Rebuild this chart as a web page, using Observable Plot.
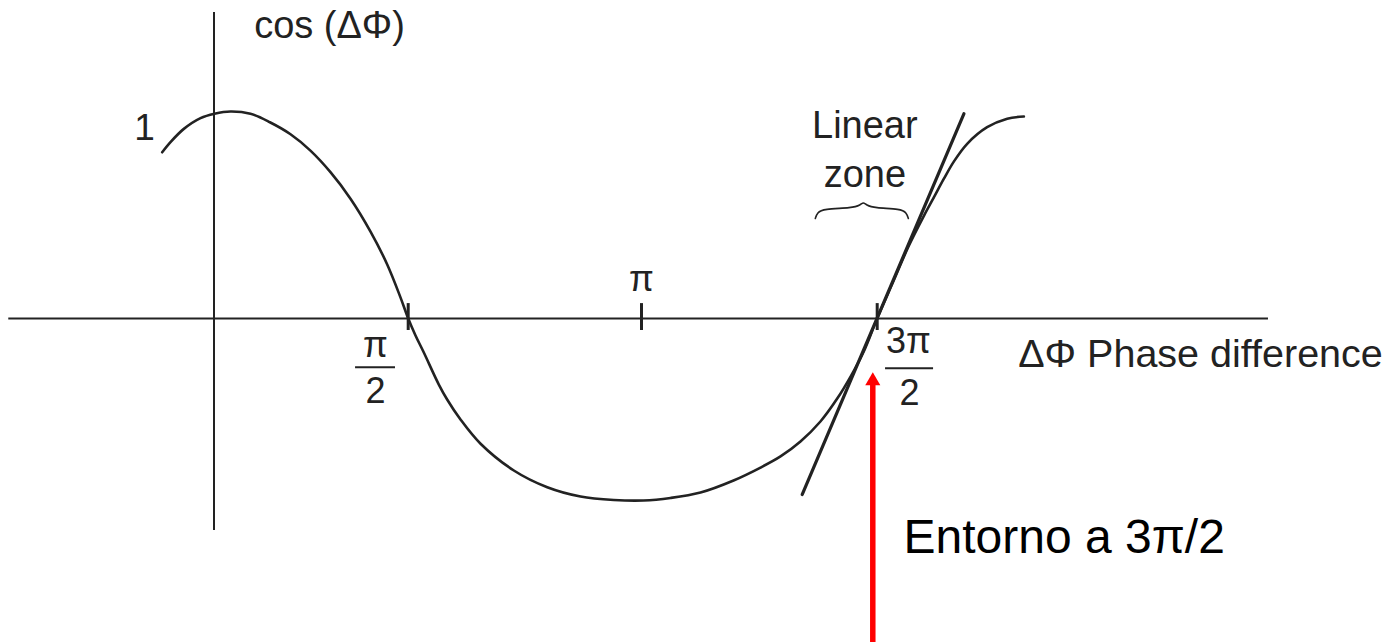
<!DOCTYPE html>
<html>
<head>
<meta charset="utf-8">
<script src="https://cdn.jsdelivr.net/npm/d3@7"></script>
<script src="https://cdn.jsdelivr.net/npm/@observablehq/plot@0.6"></script>
<style>
  html, body { margin: 0; padding: 0; background: #fff; }
  #chart svg { display: block; }
</style>
</head>
<body>
<div id="chart"></div>
<script>
const PI = Math.PI;

// Sketched interferometer response: phase difference ΔΦ (rad) against cos(ΔΦ)
const curvePhase = [
  -0.419, -0.352, -0.244, -0.109, 0.004, 0.133, 0.295, 0.452, 0.619, 0.780,
  0.942, 1.104, 1.266, 1.401, 1.509, 1.571, 1.620, 1.676, 1.777, 1.833,
  1.923, 2.058, 2.282, 2.507, 2.731, 2.955, 3.155, 3.335, 3.535, 3.755,
  3.935, 4.068, 4.201, 4.334, 4.446, 4.535, 4.623, 4.712, 4.821, 4.921,
  5.023, 5.090, 5.156, 5.223, 5.312, 5.445, 5.579, 5.690
];
const curveCos = [
  0.803, 0.852, 0.916, 0.968, 0.989, 1.000, 0.989, 0.948, 0.890, 0.811,
  0.707, 0.579, 0.420, 0.261, 0.101, 0.000, -0.093, -0.187, -0.363, -0.445,
  -0.555, -0.688, -0.835, -0.927, -0.978, -0.997, -1.000, -0.986, -0.956, -0.890,
  -0.819, -0.758, -0.676, -0.566, -0.440, -0.319, -0.181, 0.000, 0.181, 0.348,
  0.495, 0.585, 0.674, 0.758, 0.844, 0.924, 0.965, 0.976
];

// Straight tangent drawn through the 3π/2 crossing
const tangentPhase = [4.213, 5.290];
const tangentCos = [-0.967, 0.989];

// Axis extents and tick positions
const axisPhaseExtent = [-1.66, 7.32];
const axisCosExtent = [-1.165, 1.478];
const tickPhases = [PI / 2, PI, 3 * PI / 2];

// Phase interval labelled "Linear zone"
const linearZone = [4.30, 4.92];
const braceLevel = 0.529;

// Operating point arrow near 3π/2
const arrowPhase = 4.683;
const arrowTipCos = -0.295;
const arrowTailCos = -1.9;

const curve = curvePhase.map((p, i) => ({phase: p, cos: curveCos[i]}));
const tangent = tangentPhase.map((p, i) => ({phase: p, cos: tangentCos[i]}));

// Curly brace built from the linear-zone interval
const [z0, z1] = linearZone;
const zw = z1 - z0;
const braceShape = [
  [0.000, -0.046], [0.021, -0.017], [0.085, 0.000], [0.40, 0.005],
  [0.485, 0.019], [0.516, 0.034], [0.547, 0.019], [0.632, 0.005],
  [0.92, 0.000], [0.979, -0.017], [1.000, -0.046]
];
const brace = braceShape.map(([f, d]) => ({phase: z0 + f * zw, cos: braceLevel + d}));

const ink = "#222";
const font = "'Liberation Sans', Arial, Helvetica, sans-serif";

const chart = Plot.plot({
  width: 1393,
  height: 642,
  margin: 0,
  style: {fontFamily: font, background: "#fff"},
  x: {type: "linear", domain: [0, PI / 2, PI, 3 * PI / 2], range: [213.5, 407.7, 641, 876.7], axis: null},
  y: {type: "linear", domain: [-1, 0, 1], range: [500, 318, 111], axis: null},
  marks: [
    // axes
    Plot.ruleY([0], {x1: axisPhaseExtent[0], x2: axisPhaseExtent[1], stroke: ink, strokeWidth: 2}),
    Plot.ruleX([0], {y1: axisCosExtent[0], y2: axisCosExtent[1], stroke: ink, strokeWidth: 2}),
    Plot.ruleX(tickPhases, {y1: -0.066, y2: 0.072, stroke: ink, strokeWidth: 3}),

    // response curve and its tangent
    Plot.line(curve, {x: "phase", y: "cos", curve: "catmull-rom", stroke: ink, strokeWidth: 2.6}),
    Plot.line(tangent, {x: "phase", y: "cos", stroke: ink, strokeWidth: 3.2}),

    // brace over the linear zone
    Plot.line(brace, {x: "phase", y: "cos", curve: "basis", stroke: ink, strokeWidth: 1.6}),

    // labels
    Plot.text(["1"], {x: -0.562, y: 0.860, lineAnchor: "bottom", fontSize: 37, fill: ink}),
    Plot.text(["cos (ΔΦ)"], {x: 0.934, y: 1.353, lineAnchor: "bottom", fontSize: 38, fill: ink}),
    Plot.text(["Linear"], {x: (z0 + z1) / 2 + 0.02, y: 0.870, lineAnchor: "bottom", fontSize: 38, fill: ink}),
    Plot.text(["zone"], {x: (z0 + z1) / 2 + 0.02, y: 0.634, lineAnchor: "bottom", fontSize: 38, fill: ink}),
    Plot.text(["π"], {x: PI, y: 0.135, lineAnchor: "bottom", fontSize: 36, fill: ink}),
    Plot.text(["π"], {x: 1.306, y: -0.209, lineAnchor: "bottom", fontSize: 36, fill: ink}),
    Plot.ruleY([-0.268], {x1: 1.145, x2: 1.468, stroke: ink, strokeWidth: 2}),
    Plot.text(["2"], {x: 1.306, y: -0.467, lineAnchor: "bottom", fontSize: 36, fill: ink}),
    Plot.text(["3π"], {x: 4.921, y: -0.192, lineAnchor: "bottom", fontSize: 36, fill: ink}),
    Plot.ruleY([-0.273], {x1: 4.768, x2: 5.088, stroke: ink, strokeWidth: 2}),
    Plot.text(["2"], {x: 4.928, y: -0.478, lineAnchor: "bottom", fontSize: 36, fill: ink}),
    Plot.text(["ΔΦ Phase difference"], {x: 6.867, y: -0.268, lineAnchor: "bottom", fontSize: 39.5, fill: ink}),

    // operating point annotation
    Plot.ruleX([arrowPhase], {y1: arrowTailCos, y2: arrowTipCos - 0.045, stroke: "#ff0000", strokeWidth: 5.5}),
    Plot.dot([arrowPhase], {x: d => d, y: arrowTipCos, dy: 8.7, symbol: "triangle", r: 5.6, fill: "#ff0000", stroke: null}),
    Plot.text(["Entorno a 3π/2"], {x: 4.888, y: -1.291, lineAnchor: "bottom", textAnchor: "start", fontSize: 48, fill: "#000"})
  ]
});

document.getElementById("chart").appendChild(chart);
</script>
</body>
</html>
